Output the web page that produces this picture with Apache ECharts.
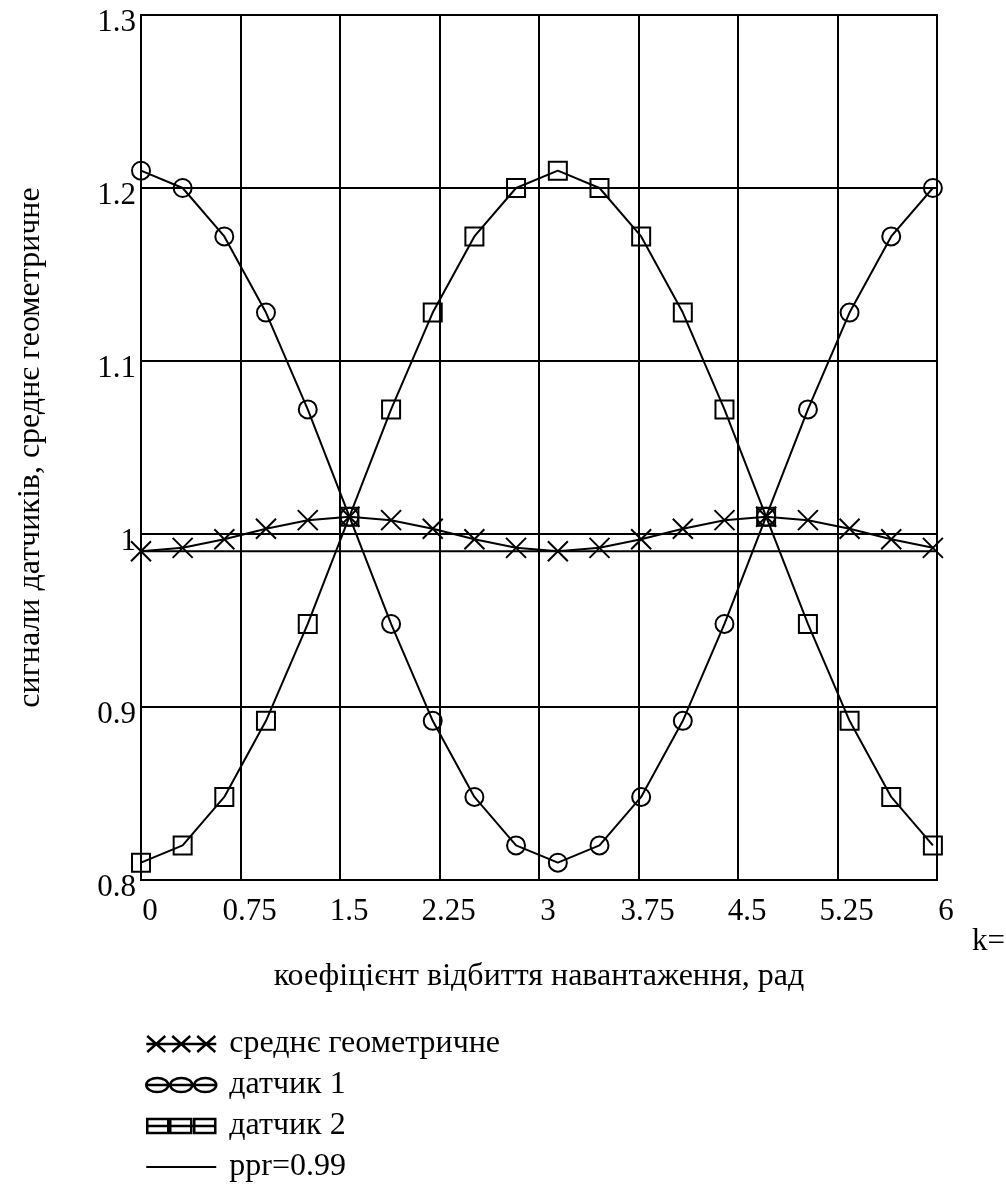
<!DOCTYPE html>
<html>
<head>
<meta charset="utf-8">
<script src="https://cdn.jsdelivr.net/npm/echarts@6/dist/echarts.min.js"></script>
<style>
  html, body { margin: 0; padding: 0; background: #fff; }
  #main { width: 1006px; height: 1188px; }
</style>
</head>
<body>
<div id="main"></div>
<script>
// значення k (рад)
const kValues = [0, 0.314, 0.628, 0.942, 1.257, 1.571, 1.885, 2.199, 2.513, 2.827,
  3.142, 3.456, 3.770, 4.084, 4.398, 4.712, 5.027, 5.341, 5.655, 5.969];
// датчик 1
const sensor1 = [1.21, 1.200, 1.172, 1.128, 1.072, 1.01, 0.948, 0.892, 0.848, 0.820,
  0.81, 0.820, 0.848, 0.892, 0.948, 1.01, 1.072, 1.128, 1.172, 1.200];
// датчик 2
const sensor2 = [0.81, 0.820, 0.848, 0.892, 0.948, 1.01, 1.072, 1.128, 1.172, 1.200,
  1.21, 1.200, 1.172, 1.128, 1.072, 1.01, 0.948, 0.892, 0.848, 0.820];
// среднє геометричне
const geoMean = [0.990, 0.992, 0.997, 1.003, 1.008, 1.010, 1.008, 1.003, 0.997, 0.992,
  0.990, 0.992, 0.997, 1.003, 1.008, 1.010, 1.008, 1.003, 0.997, 0.992];
// рівень ppr
const pprX = [0, 6];
const pprLevel = 0.99;

const seriesNames = ['среднє геометричне', 'датчик 1', 'датчик 2', 'ppr=0.99'];

const font = 'Liberation Serif';
const zip = (xs, ys) => xs.map((x, i) => [x, ys[i]]);

// значки легенди (три маркери на лінії), рамка 70x16
const iconCross = 'path://M0,0L0,0M70,16L70,16M0,8L70,8M1,0L19,16M19,0L1,16M26,0L44,16M44,0L26,16M51,0L69,16M69,0L51,16';
const iconCircle = 'path://M0,8L70,8M0,8A11,7,0,1,0,22,8A11,7,0,1,0,0,8ZM24,8A11,7,0,1,0,46,8A11,7,0,1,0,24,8ZM48,8A11,7,0,1,0,70,8A11,7,0,1,0,48,8ZM0,0L0,0M70,16L70,16';
const iconRect = 'path://M0,8L70,8M1,1L22,1L22,15L1,15ZM24,1L45,1L45,15L24,15ZM48,1L69,1L69,15L48,15ZM0,0L0,0M70,16L70,16';
const iconLine = 'path://M0,7L70,7L70,9L0,9ZM0,0L0,0M70,16L70,16';

const hollow = { color: 'rgba(0,0,0,0)', borderColor: '#000', borderWidth: 2 };
const hollowLegend = { color: 'rgba(0,0,0,0)', borderColor: '#000', borderWidth: 2.5 };
const blackLine = { color: '#000', width: 2 };

const myChart = echarts.init(document.getElementById('main'));

const option = {
  backgroundColor: '#fff',
  animation: false,
  grid: {
    left: 141, right: 69, top: 15, bottom: 308,
    show: true, borderColor: '#000', borderWidth: 2,
    outerBoundsMode: 'none',
  },
  xAxis: {
    type: 'value',
    min: 0, max: 6, interval: 0.75,
    name: 'коефіцієнт відбиття навантаження, рад',
    nameLocation: 'middle',
    nameGap: 81,
    nameTextStyle: { fontFamily: font, fontSize: 32, lineHeight: 32, color: '#000' },
    axisLine: { lineStyle: { color: '#000', width: 2 } },
    axisTick: { show: false },
    axisLabel: {
      fontFamily: font, fontSize: 31, lineHeight: 31, color: '#000',
      margin: 16, padding: [0, 0, 0, 18],
    },
    splitLine: { show: true, lineStyle: { color: '#000', width: 2 } },
  },
  yAxis: {
    type: 'value',
    min: 0.8, max: 1.3, interval: 0.1,
    name: 'сигнали датчиків, среднє геометричне',
    nameLocation: 'middle',
    nameGap: 94,
    nameRotate: 90,
    nameTextStyle: { fontFamily: font, fontSize: 32, lineHeight: 32, color: '#000' },
    axisLine: { lineStyle: { color: '#000', width: 2 } },
    axisTick: { show: false },
    axisLabel: {
      fontFamily: font, fontSize: 31, lineHeight: 16, color: '#000',
      margin: 5, verticalAlign: 'top',
    },
    splitLine: { show: true, lineStyle: { color: '#000', width: 2 } },
  },
  legend: {
    orient: 'vertical',
    left: 145, top: 1028, padding: 0,
    itemWidth: 70, itemHeight: 16, itemGap: 9,
    symbolKeepAspect: false,
    selectedMode: false,
    textStyle: { fontFamily: font, fontSize: 32, color: '#000', lineHeight: 32, padding: [0, 0, 0, 8] },
    data: [
      { name: seriesNames[0], icon: iconCross, itemStyle: hollowLegend },
      { name: seriesNames[1], icon: iconCircle, itemStyle: hollowLegend },
      { name: seriesNames[2], icon: iconRect, itemStyle: hollowLegend },
      { name: seriesNames[3], icon: iconLine, itemStyle: { color: '#000', borderWidth: 0 } },
    ],
  },
  graphic: [
    {
      type: 'text', left: 972, top: 926,
      style: { text: 'k=', fontFamily: font, fontSize: 31, fill: '#000' },
    },
  ],
  series: [
    {
      name: seriesNames[0], type: 'line',
      data: zip(kValues, geoMean),
      symbol: 'path://M0,0L10,10M10,0L0,10', symbolSize: 20,
      itemStyle: hollow, lineStyle: blackLine,
    },
    {
      name: seriesNames[1], type: 'line',
      data: zip(kValues, sensor1),
      symbol: 'circle', symbolSize: 18,
      itemStyle: hollow, lineStyle: blackLine,
    },
    {
      name: seriesNames[2], type: 'line',
      data: zip(kValues, sensor2),
      symbol: 'rect', symbolSize: 18,
      itemStyle: hollow, lineStyle: blackLine,
    },
    {
      name: seriesNames[3], type: 'line',
      data: pprX.map(x => [x, pprLevel]),
      symbol: 'none',
      itemStyle: { color: '#000' }, lineStyle: blackLine,
    },
  ],
};

myChart.setOption(option);
</script>
</body>
</html>
